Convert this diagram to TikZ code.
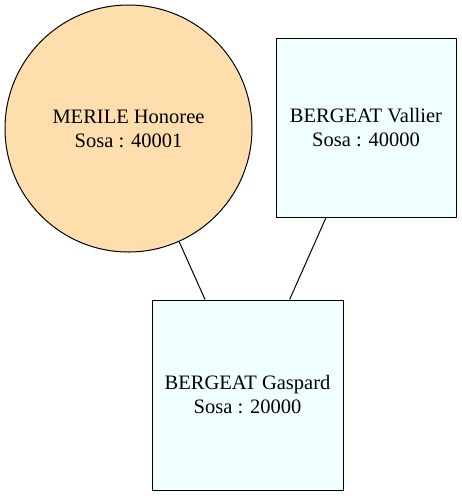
\documentclass[tikz,border=0pt]{standalone}
\usepackage{fontspec}
\setmainfont{Liberation Serif}
\usepackage{xcolor}
\usepackage{tikz}
\usetikzlibrary{positioning}

\definecolor{navajo}{HTML}{FFDEAD}
\definecolor{azurebox}{HTML}{F0FFFF}

\begin{document}
\begin{tikzpicture}[
    x=1pt, y=-1pt,
    line width=1pt,
    font=\fontsize{20.5}{24}\selectfont,
    female/.style={circle, draw, fill=navajo, minimum size=247pt, inner sep=0pt, align=center},
    male/.style={rectangle, draw, fill=azurebox, inner sep=0pt, align=center}
]
    \useasboundingbox (0,0) rectangle (462,496);

    % Parents
    \node[female] (honoree) at (128.5,128.5) {MERILE Honoree\\Sosa : 40001};
    \node[male, minimum width=180pt, minimum height=179pt] (vallier) at (366,127.5) {BERGEAT Vallier\\Sosa : 40000};

    % Child
    \node[male, minimum width=191pt, minimum height=190pt] (gaspard) at (247.5,395) {BERGEAT Gaspard\\Sosa : 20000};

    % Links
    \draw (honoree) -- (gaspard);
    \draw (vallier) -- (gaspard);
\end{tikzpicture}
\end{document}
